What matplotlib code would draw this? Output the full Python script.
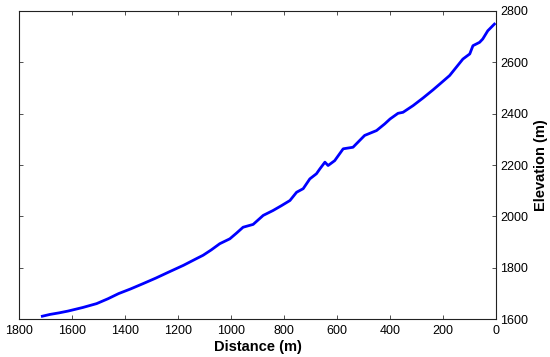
import matplotlib
matplotlib.use('Agg')
import matplotlib.pyplot as plt

plt.rcParams['font.family'] = ['Liberation Sans', 'DejaVu Sans']

# distance along profile (m) and elevation (m)
distance = [1713, 1684, 1650, 1616, 1560, 1508, 1465, 1425, 1380, 1332,
            1285, 1235, 1180, 1131, 1106, 1075, 1043, 1005, 980, 955,
            917, 879, 842, 810, 778, 753, 728, 703, 678, 665,
            646, 634, 609, 577, 540, 496, 451, 420, 400, 370,
            351, 313, 275, 238, 212, 175, 150, 125, 99, 87,
            62, 50, 31, 6]
elevation = [1612, 1619, 1625, 1632, 1646, 1661, 1680, 1700, 1718, 1739,
             1760, 1784, 1810, 1836, 1849, 1870, 1894, 1913, 1935, 1958,
             1969, 2004, 2023, 2042, 2062, 2094, 2108, 2146, 2166, 2185,
             2211, 2198, 2217, 2263, 2269, 2315, 2334, 2360, 2379, 2401,
             2405, 2431, 2461, 2492, 2515, 2548, 2580, 2612, 2632, 2664,
             2677, 2690, 2722, 2748]

x_ticks = [1800, 1600, 1400, 1200, 1000, 800, 600, 400, 200, 0]
y_ticks = [1600, 1800, 2000, 2200, 2400, 2600, 2800]

fig = plt.figure(figsize=(5.5, 3.57), dpi=100)
ax = fig.add_axes([0.0351, 0.1056, 0.8667, 0.8644])

ax.plot(distance, elevation, color='#0000ff', linewidth=2.0)

ax.set_xlim(1800, 0)
ax.set_ylim(1600, 2800)
ax.set_xticks(x_ticks)
ax.set_yticks(y_ticks)

ax.yaxis.tick_right()
ax.yaxis.set_label_position('right')
ax.tick_params(direction='in', length=3, width=0.6, color='#333333',
               labelsize=9, top=True, bottom=True, left=True, right=True,
               labelleft=False, labelright=True)
ax.tick_params(axis='x', pad=4)
ax.tick_params(axis='y', pad=3)

for s in ax.spines.values():
    s.set_linewidth(0.8)
    s.set_color('#222222')

ax.set_xlabel('Distance (m)', fontsize=10.5, fontweight='bold', labelpad=2)
ax.set_ylabel('Elevation (m)', fontsize=10.5, fontweight='bold', labelpad=4)

fig.savefig('out.png', dpi=100)
